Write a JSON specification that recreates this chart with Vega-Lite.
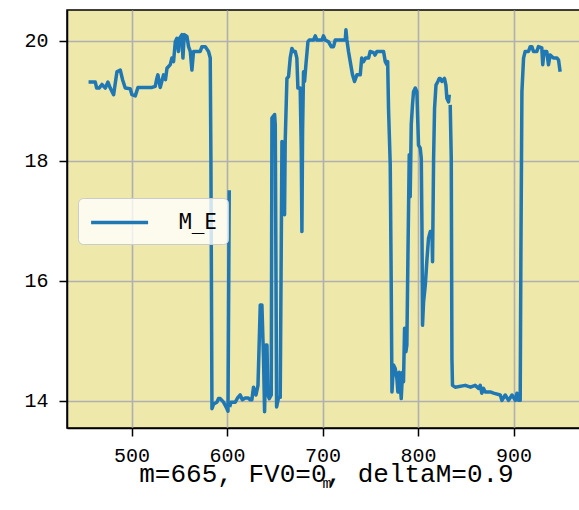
{
  "$schema": "https://vega.github.io/schema/vega-lite/v6.json",
  "autosize": {"type": "none"},
  "padding": {"left": 67, "top": 10, "right": 0, "bottom": 82},
  "width": 519,
  "height": 418,
  "background": "white",
  "title": {"text": "m=665, FV0=0, deltaM=0.9", "orient": "bottom", "anchor": "middle", "font": "Liberation Mono", "fontSize": 26, "fontWeight": "normal", "color": "black", "offset": -29},
  "config": {"view": {"fill": "#eee8aa", "stroke": "black", "strokeWidth": 1.5}},
  "data": {"values": [
    {"m": 455.0, "v": 19.31, "seg": "a"},
    {"m": 462.0, "v": 19.31, "seg": "a"},
    {"m": 463.5, "v": 19.21, "seg": "a"},
    {"m": 466.0, "v": 19.21, "seg": "a"},
    {"m": 469.0, "v": 19.27, "seg": "a"},
    {"m": 472.5, "v": 19.21, "seg": "a"},
    {"m": 475.3, "v": 19.31, "seg": "a"},
    {"m": 477.7, "v": 19.21, "seg": "a"},
    {"m": 481.2, "v": 19.10, "seg": "a"},
    {"m": 484.7, "v": 19.48, "seg": "a"},
    {"m": 488.2, "v": 19.51, "seg": "a"},
    {"m": 490.6, "v": 19.35, "seg": "a"},
    {"m": 493.4, "v": 19.21, "seg": "a"},
    {"m": 498.6, "v": 19.20, "seg": "a"},
    {"m": 500.4, "v": 19.10, "seg": "a"},
    {"m": 503.9, "v": 19.08, "seg": "a"},
    {"m": 506.7, "v": 19.22, "seg": "a"},
    {"m": 521.4, "v": 19.22, "seg": "a"},
    {"m": 524.8, "v": 19.24, "seg": "a"},
    {"m": 526.5, "v": 19.37, "seg": "a"},
    {"m": 527.6, "v": 19.43, "seg": "a"},
    {"m": 530.0, "v": 19.22, "seg": "a"},
    {"m": 533.5, "v": 19.43, "seg": "a"},
    {"m": 535.5, "v": 19.35, "seg": "a"},
    {"m": 537.1, "v": 19.54, "seg": "a"},
    {"m": 540.5, "v": 19.60, "seg": "a"},
    {"m": 542.3, "v": 19.71, "seg": "a"},
    {"m": 544.0, "v": 19.65, "seg": "a"},
    {"m": 545.8, "v": 19.98, "seg": "a"},
    {"m": 547.5, "v": 20.04, "seg": "a"},
    {"m": 549.2, "v": 19.82, "seg": "a"},
    {"m": 550.3, "v": 20.04, "seg": "a"},
    {"m": 552.8, "v": 20.10, "seg": "a"},
    {"m": 553.8, "v": 19.71, "seg": "a"},
    {"m": 555.2, "v": 20.10, "seg": "a"},
    {"m": 558.0, "v": 20.07, "seg": "a"},
    {"m": 559.7, "v": 19.90, "seg": "a"},
    {"m": 561.5, "v": 19.82, "seg": "a"},
    {"m": 563.2, "v": 19.51, "seg": "a"},
    {"m": 564.9, "v": 19.82, "seg": "a"},
    {"m": 566.7, "v": 19.82, "seg": "a"},
    {"m": 571.9, "v": 19.82, "seg": "a"},
    {"m": 573.7, "v": 19.90, "seg": "a"},
    {"m": 577.2, "v": 19.90, "seg": "a"},
    {"m": 580.6, "v": 19.82, "seg": "a"},
    {"m": 582.4, "v": 19.71, "seg": "a"},
    {"m": 583.1, "v": 18.04, "seg": "a"},
    {"m": 584.2, "v": 13.87, "seg": "a"},
    {"m": 586.0, "v": 13.95, "seg": "a"},
    {"m": 589.4, "v": 13.98, "seg": "a"},
    {"m": 591.0, "v": 14.04, "seg": "a"},
    {"m": 592.9, "v": 14.04, "seg": "a"},
    {"m": 596.3, "v": 13.98, "seg": "a"},
    {"m": 599.9, "v": 13.87, "seg": "a"},
    {"m": 601.0, "v": 13.83, "seg": "a"},
    {"m": 602.3, "v": 17.51, "seg": "a"},
    {"m": 602.7, "v": 13.90, "seg": "b"},
    {"m": 604.1, "v": 13.98, "seg": "b"},
    {"m": 608.6, "v": 13.98, "seg": "b"},
    {"m": 611.0, "v": 14.05, "seg": "b"},
    {"m": 613.8, "v": 14.10, "seg": "b"},
    {"m": 616.0, "v": 14.02, "seg": "b"},
    {"m": 619.0, "v": 14.05, "seg": "b"},
    {"m": 622.0, "v": 14.05, "seg": "b"},
    {"m": 624.3, "v": 14.02, "seg": "b"},
    {"m": 626.0, "v": 14.02, "seg": "b"},
    {"m": 627.7, "v": 14.23, "seg": "b"},
    {"m": 630.3, "v": 14.10, "seg": "b"},
    {"m": 632.4, "v": 14.26, "seg": "b"},
    {"m": 634.8, "v": 15.60, "seg": "b"},
    {"m": 636.5, "v": 15.60, "seg": "b"},
    {"m": 638.2, "v": 14.71, "seg": "b"},
    {"m": 639.3, "v": 13.82, "seg": "b"},
    {"m": 640.7, "v": 14.93, "seg": "b"},
    {"m": 641.8, "v": 14.93, "seg": "b"},
    {"m": 642.8, "v": 14.10, "seg": "b"},
    {"m": 644.2, "v": 14.04, "seg": "b"},
    {"m": 646.3, "v": 14.10, "seg": "b"},
    {"m": 647.0, "v": 18.71, "seg": "b"},
    {"m": 649.8, "v": 18.77, "seg": "b"},
    {"m": 650.5, "v": 18.60, "seg": "b"},
    {"m": 651.9, "v": 13.90, "seg": "b"},
    {"m": 654.0, "v": 14.06, "seg": "b"},
    {"m": 655.7, "v": 14.06, "seg": "b"},
    {"m": 657.5, "v": 18.32, "seg": "b"},
    {"m": 659.2, "v": 17.60, "seg": "b"},
    {"m": 660.2, "v": 17.10, "seg": "b"},
    {"m": 660.9, "v": 18.32, "seg": "b"},
    {"m": 662.7, "v": 19.37, "seg": "b"},
    {"m": 664.4, "v": 19.40, "seg": "b"},
    {"m": 666.2, "v": 19.72, "seg": "b"},
    {"m": 667.9, "v": 19.87, "seg": "b"},
    {"m": 669.6, "v": 19.82, "seg": "b"},
    {"m": 671.4, "v": 19.82, "seg": "b"},
    {"m": 673.1, "v": 19.71, "seg": "b"},
    {"m": 674.2, "v": 19.21, "seg": "b"},
    {"m": 676.6, "v": 19.21, "seg": "b"},
    {"m": 677.7, "v": 18.20, "seg": "b"},
    {"m": 678.4, "v": 16.82, "seg": "b"},
    {"m": 679.1, "v": 18.50, "seg": "b"},
    {"m": 680.1, "v": 19.48, "seg": "b"},
    {"m": 681.2, "v": 19.32, "seg": "b"},
    {"m": 682.6, "v": 19.60, "seg": "b"},
    {"m": 684.7, "v": 19.98, "seg": "b"},
    {"m": 686.1, "v": 20.01, "seg": "b"},
    {"m": 690.6, "v": 20.01, "seg": "b"},
    {"m": 692.4, "v": 20.08, "seg": "b"},
    {"m": 694.1, "v": 20.01, "seg": "b"},
    {"m": 699.4, "v": 20.01, "seg": "b"},
    {"m": 701.0, "v": 20.08, "seg": "b"},
    {"m": 702.8, "v": 20.01, "seg": "b"},
    {"m": 706.3, "v": 19.98, "seg": "b"},
    {"m": 709.1, "v": 19.90, "seg": "b"},
    {"m": 711.5, "v": 19.90, "seg": "b"},
    {"m": 713.3, "v": 20.01, "seg": "b"},
    {"m": 723.8, "v": 20.01, "seg": "b"},
    {"m": 724.5, "v": 20.18, "seg": "b"},
    {"m": 725.5, "v": 20.01, "seg": "b"},
    {"m": 727.2, "v": 19.82, "seg": "b"},
    {"m": 729.0, "v": 19.65, "seg": "b"},
    {"m": 731.4, "v": 19.43, "seg": "b"},
    {"m": 733.5, "v": 19.32, "seg": "b"},
    {"m": 736.0, "v": 19.43, "seg": "b"},
    {"m": 739.5, "v": 19.43, "seg": "b"},
    {"m": 741.0, "v": 19.71, "seg": "b"},
    {"m": 742.9, "v": 19.65, "seg": "b"},
    {"m": 745.0, "v": 19.71, "seg": "b"},
    {"m": 748.2, "v": 19.71, "seg": "b"},
    {"m": 749.9, "v": 19.82, "seg": "b"},
    {"m": 753.4, "v": 19.80, "seg": "b"},
    {"m": 755.0, "v": 19.76, "seg": "b"},
    {"m": 757.0, "v": 19.82, "seg": "b"},
    {"m": 763.9, "v": 19.82, "seg": "b"},
    {"m": 765.7, "v": 19.65, "seg": "b"},
    {"m": 767.4, "v": 19.60, "seg": "b"},
    {"m": 768.2, "v": 19.65, "seg": "b"},
    {"m": 769.1, "v": 18.87, "seg": "b"},
    {"m": 770.9, "v": 17.93, "seg": "b"},
    {"m": 771.9, "v": 16.00, "seg": "b"},
    {"m": 772.7, "v": 14.15, "seg": "b"},
    {"m": 774.3, "v": 14.60, "seg": "b"},
    {"m": 776.1, "v": 14.54, "seg": "b"},
    {"m": 777.9, "v": 14.37, "seg": "b"},
    {"m": 778.9, "v": 14.15, "seg": "b"},
    {"m": 780.3, "v": 14.48, "seg": "b"},
    {"m": 781.4, "v": 14.26, "seg": "b"},
    {"m": 782.4, "v": 14.04, "seg": "b"},
    {"m": 783.8, "v": 14.48, "seg": "b"},
    {"m": 784.8, "v": 14.32, "seg": "b"},
    {"m": 785.9, "v": 15.21, "seg": "b"},
    {"m": 787.3, "v": 14.82, "seg": "b"},
    {"m": 788.3, "v": 14.93, "seg": "b"},
    {"m": 789.4, "v": 16.37, "seg": "b"},
    {"m": 790.8, "v": 18.10, "seg": "b"},
    {"m": 791.8, "v": 17.40, "seg": "b"},
    {"m": 792.9, "v": 18.60, "seg": "b"},
    {"m": 794.2, "v": 18.93, "seg": "b"},
    {"m": 795.3, "v": 19.15, "seg": "b"},
    {"m": 797.1, "v": 19.21, "seg": "b"},
    {"m": 798.8, "v": 19.15, "seg": "b"},
    {"m": 800.5, "v": 18.26, "seg": "b"},
    {"m": 802.3, "v": 18.21, "seg": "b"},
    {"m": 803.4, "v": 18.04, "seg": "b"},
    {"m": 804.1, "v": 16.93, "seg": "b"},
    {"m": 804.7, "v": 15.26, "seg": "b"},
    {"m": 805.8, "v": 15.65, "seg": "b"},
    {"m": 807.6, "v": 15.93, "seg": "b"},
    {"m": 809.4, "v": 16.37, "seg": "b"},
    {"m": 811.0, "v": 16.71, "seg": "b"},
    {"m": 812.8, "v": 16.82, "seg": "b"},
    {"m": 814.6, "v": 16.82, "seg": "b"},
    {"m": 815.2, "v": 16.32, "seg": "b"},
    {"m": 816.3, "v": 18.04, "seg": "b"},
    {"m": 817.3, "v": 18.87, "seg": "b"},
    {"m": 818.8, "v": 19.26, "seg": "b"},
    {"m": 820.8, "v": 19.32, "seg": "b"},
    {"m": 822.2, "v": 19.37, "seg": "b"},
    {"m": 823.2, "v": 19.37, "seg": "b"},
    {"m": 825.0, "v": 19.32, "seg": "b"},
    {"m": 827.7, "v": 19.37, "seg": "b"},
    {"m": 829.2, "v": 19.26, "seg": "b"},
    {"m": 830.2, "v": 19.04, "seg": "b"},
    {"m": 832.0, "v": 18.98, "seg": "b"},
    {"m": 832.7, "v": 19.10, "seg": "b"},
    {"m": 833.7, "v": 18.93, "seg": "c"},
    {"m": 834.8, "v": 18.04, "seg": "c"},
    {"m": 835.5, "v": 14.71, "seg": "c"},
    {"m": 836.1, "v": 14.26, "seg": "c"},
    {"m": 838.9, "v": 14.23, "seg": "c"},
    {"m": 849.4, "v": 14.26, "seg": "c"},
    {"m": 855.0, "v": 14.23, "seg": "c"},
    {"m": 859.8, "v": 14.26, "seg": "c"},
    {"m": 863.4, "v": 14.21, "seg": "c"},
    {"m": 865.1, "v": 14.26, "seg": "c"},
    {"m": 866.8, "v": 14.13, "seg": "c"},
    {"m": 868.5, "v": 14.21, "seg": "c"},
    {"m": 870.4, "v": 14.15, "seg": "c"},
    {"m": 875.6, "v": 14.15, "seg": "c"},
    {"m": 879.1, "v": 14.13, "seg": "c"},
    {"m": 886.1, "v": 14.10, "seg": "c"},
    {"m": 887.9, "v": 14.01, "seg": "c"},
    {"m": 891.3, "v": 14.10, "seg": "c"},
    {"m": 894.8, "v": 14.01, "seg": "c"},
    {"m": 898.4, "v": 14.10, "seg": "c"},
    {"m": 901.9, "v": 14.01, "seg": "c"},
    {"m": 903.6, "v": 14.13, "seg": "c"},
    {"m": 905.3, "v": 14.01, "seg": "c"},
    {"m": 907.0, "v": 14.01, "seg": "c"},
    {"m": 907.7, "v": 16.37, "seg": "c"},
    {"m": 908.8, "v": 19.15, "seg": "c"},
    {"m": 910.5, "v": 19.71, "seg": "c"},
    {"m": 912.2, "v": 19.82, "seg": "c"},
    {"m": 915.7, "v": 19.82, "seg": "c"},
    {"m": 917.5, "v": 19.90, "seg": "c"},
    {"m": 919.2, "v": 19.90, "seg": "c"},
    {"m": 920.9, "v": 19.82, "seg": "c"},
    {"m": 924.4, "v": 19.82, "seg": "c"},
    {"m": 926.1, "v": 19.90, "seg": "c"},
    {"m": 929.6, "v": 19.88, "seg": "c"},
    {"m": 930.6, "v": 19.60, "seg": "c"},
    {"m": 932.0, "v": 19.82, "seg": "c"},
    {"m": 934.8, "v": 19.82, "seg": "c"},
    {"m": 936.6, "v": 19.60, "seg": "c"},
    {"m": 938.4, "v": 19.76, "seg": "c"},
    {"m": 941.8, "v": 19.71, "seg": "c"},
    {"m": 945.4, "v": 19.71, "seg": "c"},
    {"m": 947.1, "v": 19.68, "seg": "c"},
    {"m": 948.8, "v": 19.48, "seg": "c"}
  ]},
  "mark": {"type": "line", "strokeWidth": 3.5, "clip": true, "strokeJoin": "round"},
  "encoding": {
    "x": {"field": "m", "type": "quantitative",
      "scale": {"domain": [432.4, 975.9], "nice": false, "zero": false},
      "axis": {"values": [500, 600, 700, 800, 900], "title": "m", "titleFont": "Liberation Mono", "titleFontSize": 15, "titleFontWeight": "normal", "titleColor": "black", "titlePadding": 10,
        "labelFont": "Liberation Mono", "labelFontSize": 20, "labelColor": "black", "labelPadding": 9,
        "tickColor": "black", "tickSize": 8, "tickWidth": 1.5, "domainColor": "black", "domainWidth": 1.5,
        "gridColor": "#b0b0b0", "gridWidth": 1.6}},
    "y": {"field": "v", "type": "quantitative",
      "scale": {"domain": [13.55, 20.51], "nice": false, "zero": false},
      "axis": {"values": [14, 16, 18, 20], "title": null,
        "labelFont": "Liberation Mono", "labelFontSize": 20, "labelColor": "black", "labelPadding": 11,
        "tickColor": "black", "tickSize": 8, "tickWidth": 1.5, "domainColor": "black", "domainWidth": 1.5,
        "gridColor": "#b0b0b0", "gridWidth": 1.6}},
    "detail": {"field": "seg"},
    "color": {"datum": "M_E", "scale": {"range": ["#1f77b4"]},
      "legend": {"orient": "none", "legendX": 11, "legendY": 188, "title": null, "symbolType": "M-1,0H4", "symbolSize": 520, "symbolStrokeWidth": 3.5,
        "labelOffset": 63, "labelFont": "DejaVu Sans Mono", "labelFontSize": 21, "labelColor": "black", "padding": 11,
        "fillColor": "rgba(255,255,255,0.8)", "strokeColor": "#cccccc", "cornerRadius": 5}}
  }
}
